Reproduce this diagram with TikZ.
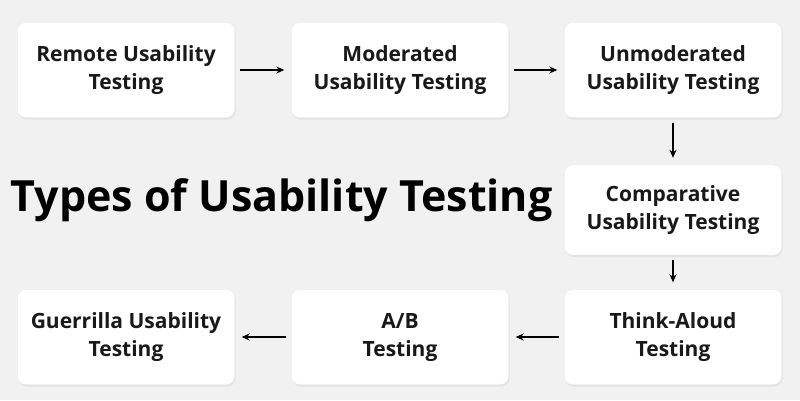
\documentclass[tikz,border=0pt]{standalone}
\usepackage{fontspec}
\setmainfont{Open Sans}
\usetikzlibrary{arrows.meta,positioning,shadows}
\definecolor{bgc}{HTML}{F1F1F1}
\tikzset{
  stage/.style={rectangle, rounded corners=8pt, fill=white, draw=black!8,
    minimum width=217pt, minimum height=95pt, align=center,
    font=\fontsize{21}{28}\selectfont\bfseries, text=black!90,
    drop shadow={shadow xshift=1pt, shadow yshift=-2pt, opacity=0.12}},
  flow/.style={-{Stealth[length=8pt,width=7pt]}, line width=1.4pt, shorten <=5pt, shorten >=7pt}
}
\begin{document}
\begin{tikzpicture}[x=1pt, y=-1pt]
  \fill[bgc] (0,0) rectangle (800,400);
  \useasboundingbox (0,0) rectangle (800,400);
  \node[stage] (remote) at (126,70) {Remote Usability\\Testing};
  \node[stage] (moder) at (400,70) {Moderated\\Usability Testing};
  \node[stage] (unmod) at (673,70) {Unmoderated\\Usability Testing};
  \node[stage, minimum height=90pt] (compar) at (673,210) {Comparative\\Usability Testing};
  \node[stage] (think) at (673,337) {Think-Aloud\\Testing};
  \node[stage] (ab) at (400,337) {A/B\\Testing};
  \node[stage] (guer) at (126,337) {Guerrilla Usability\\Testing};
  \node[font=\fontsize{43}{50}\selectfont\bfseries, anchor=west] (title) at (7,200) {Types of Usability Testing};
  \draw[flow] (remote) -- (moder);
  \draw[flow] (moder) -- (unmod);
  \draw[flow] (unmod) -- (compar);
  \draw[flow] (compar) -- (think);
  \draw[flow] (think) -- (ab);
  \draw[flow] (ab) -- (guer);
\end{tikzpicture}
\end{document}
